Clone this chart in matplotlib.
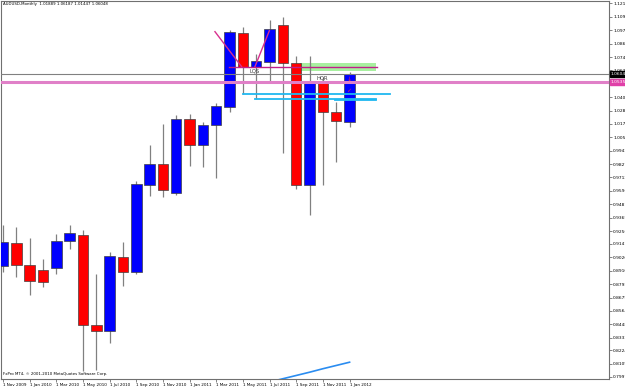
import matplotlib
matplotlib.use('Agg')
import matplotlib.pyplot as plt
import matplotlib.transforms as mtransforms
from matplotlib.patches import Rectangle

# monthly AUDUSD candles, Nov 2009 .. Jan 2012
months = ['Nov 2009', 'Dec 2009', 'Jan 2010', 'Feb 2010', 'Mar 2010', 'Apr 2010',
          'May 2010', 'Jun 2010', 'Jul 2010', 'Aug 2010', 'Sep 2010', 'Oct 2010',
          'Nov 2010', 'Dec 2010', 'Jan 2011', 'Feb 2011', 'Mar 2011', 'Apr 2011',
          'May 2011', 'Jun 2011', 'Jul 2011', 'Aug 2011', 'Sep 2011', 'Oct 2011',
          'Nov 2011', 'Dec 2011', 'Jan 2012']
opens = [0.8950, 0.9150, 0.8960, 0.8920, 0.8930, 0.9165, 0.9215, 0.8440, 0.8395,
         0.9030, 0.8895, 0.9650, 0.9830, 0.9580, 1.0215, 0.9990, 1.0165, 1.0318,
         1.0952, 1.0665, 1.0708, 1.1023, 1.0697, 0.9647, 1.0536, 1.0273, 1.01889]
highs = [0.9300, 0.9290, 0.9190, 0.9010, 0.9230, 0.9300, 0.9260, 0.8880, 0.9070,
         0.9160, 0.9680, 0.9995, 1.0175, 1.0250, 1.0255, 1.0190, 1.0350, 1.0980,
         1.1009, 1.0771, 1.1066, 1.1092, 1.0757, 1.0757, 1.0579, 1.0364, 1.06187]
lows = [0.8900, 0.8860, 0.8700, 0.8770, 0.8880, 0.9100, 0.8050, 0.8060, 0.8290,
        0.8780, 0.8880, 0.9550, 0.9540, 0.9560, 0.9810, 0.9800, 0.9710, 1.0275,
        1.0430, 1.0384, 1.0525, 0.9923, 0.9610, 0.9389, 0.9647, 0.9848, 1.01447]
closes = [0.9155, 0.8960, 0.8820, 0.8810, 0.9165, 0.9235, 0.8440, 0.8390, 0.9040,
          0.8895, 0.9660, 0.9825, 0.9600, 1.0215, 0.9990, 1.0165, 1.0330, 1.0963,
          1.0665, 1.0714, 1.0989, 1.0694, 0.9647, 1.0531, 1.0273, 1.0198, 1.06048]

# indicator line at the bottom (Jul 2011 .. Jan 2012)
ind_idx = [20, 21, 22, 23, 24, 25, 26]
ind_val = [0.7953, 0.7981, 0.8009, 0.8037, 0.8067, 0.8095, 0.8123]

date_labels = ['1 Nov 2009', '1 Jan 2010', '1 Mar 2010', '1 May 2010', '1 Jul 2010',
               '1 Sep 2010', '1 Nov 2010', '1 Jan 2011', '1 Mar 2011', '1 May 2011',
               '1 Jul 2011', '1 Sep 2011', '1 Nov 2011', '1 Jan 2012']
price_ticks = [1.12100, 1.10945, 1.09790, 1.08635, 1.07480, 1.06325, 1.04015,
               1.02860, 1.01740, 1.00585, 0.99430, 0.98275, 0.97120, 0.95965,
               0.94810, 0.93655, 0.92500, 0.91415, 0.90260, 0.89105, 0.87950,
               0.86795, 0.85640, 0.84485, 0.83330, 0.82245, 0.81090, 0.79970]

last_price = 1.06048
pink_level = 1.05356
neck_level = 1.0658
cyan_levels = [1.0434, 1.0383]
green_zone = (1.0630, 1.0694)

fig = plt.figure(figsize=(6.25, 3.87), dpi=100)
ax = fig.add_axes([1 / 625, 7.7 / 387, 608 / 625, 378.8 / 387])
ax.set_xlim(-0.15, 45.46)
ax.set_ylim(0.7976, 1.1234)

up_col, dn_col = '#0000ff', '#ff0000'
for i in range(len(months)):
    o, h, l, c = opens[i], highs[i], lows[i], closes[i]
    ax.vlines(i, l, h, color='#808080', lw=0.9, zorder=2)
    col = up_col if c >= o else dn_col
    ax.add_patch(Rectangle((i - 0.39, min(o, c)), 0.78, max(abs(c - o), 0.0004),
                           facecolor=col, edgecolor='#404040', lw=0.5, zorder=3))

# drawn objects
ax.add_patch(Rectangle((22.28, green_zone[0]), 5.7, green_zone[1] - green_zone[0],
                       facecolor='#a8f0a0', edgecolor='none', zorder=1))
ax.plot([16.95, 28.06], [neck_level, neck_level], color='#c0208a', lw=1, zorder=4)
ax.plot([15.9, 17.9], [1.0966, 1.0665], color='#d8308f', lw=1, zorder=4)
ax.plot([18.9, 19.98], [1.0665, 1.0974], color='#d8308f', lw=1, zorder=4)
ax.plot([18.0, 29.03], [cyan_levels[0], cyan_levels[0]], color='#20b8f0', lw=1.3, zorder=4)
ax.plot([18.9, 27.98], [cyan_levels[1], cyan_levels[1]], color='#20b8f0', lw=1.3, zorder=4)
ax.plot([24.9, 27.98], [cyan_levels[1] - 0.0008, cyan_levels[1] - 0.0008],
        color='#20b8f0', lw=1.3, zorder=4)
ax.axhline(pink_level, color='#e080c8', lw=2.2, zorder=4)
ax.axhline(last_price, color='#808080', lw=0.8, zorder=5)
ax.plot(ind_idx, ind_val, color='#2a8cf0', lw=1.2, zorder=4)

ax.text(18.9, 1.0628, 'LQS', fontsize=3.8, color='#404040', ha='center', va='center', zorder=6)
ax.text(23.93, 1.0568, 'HQR', fontsize=3.8, color='#404040', ha='center', va='center', zorder=6)
ax.text(26.0, 1.0555, '\u2193', fontsize=4.5, color='#e02060', ha='center', va='center', zorder=6)
ax.text(25.9, 1.0460, '\u2713', fontsize=4.5, color='#e02060', ha='center', va='center', zorder=6)

ax.text(0.004, 0.995, 'AUDUSD,Monthly  1.01889 1.06187 1.01447 1.06048',
        transform=ax.transAxes, fontsize=2.8, va='top', ha='left')
ax.text(0.004, 0.008, 'FxPro MT4, \u00a9 2001-2010 MetaQuotes Software Corp.',
        transform=ax.transAxes, fontsize=2.8, va='bottom', ha='left')

# axes styling, MT4-like
for s in ax.spines.values():
    s.set_color('#707070')
    s.set_linewidth(0.8)

ax.set_xticks(range(0, 2 * len(date_labels), 2))
ax.set_xticklabels(date_labels, fontsize=3.0, ha='left')
ax.tick_params(axis='x', length=2, width=0.6, color='#707070', pad=0.8)

ax.yaxis.tick_right()
ax.set_yticks(price_ticks)
ax.set_yticklabels(['%.5f' % v for v in price_ticks], fontsize=3.2)
ax.tick_params(axis='y', length=2, width=0.6, color='#707070', pad=1)

trans = mtransforms.blended_transform_factory(ax.transAxes, ax.transData)
ax.text(1.003, last_price, '%.5f' % last_price, transform=trans, fontsize=3.2,
        color='white', va='center', ha='left', clip_on=False, zorder=7,
        bbox=dict(boxstyle='square,pad=0.25', fc='black', ec='black'))
ax.text(1.003, pink_level, '%.5f' % pink_level, transform=trans, fontsize=3.2,
        color='white', va='center', ha='left', clip_on=False, zorder=7,
        bbox=dict(boxstyle='square,pad=0.25', fc='#e040a8', ec='#e040a8'))

fig.savefig('out.png', dpi=100, facecolor='white')
